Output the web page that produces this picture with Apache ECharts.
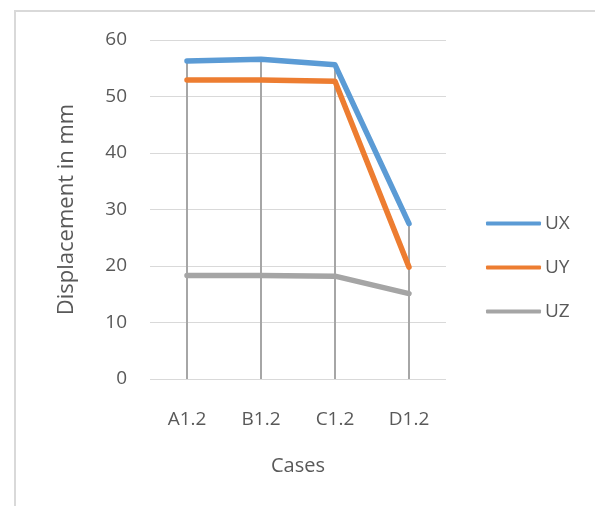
<!DOCTYPE html>
<html>
<head>
<meta charset="utf-8">
<script src="https://cdn.jsdelivr.net/npm/echarts@6/dist/echarts.min.js"></script>
<style>
  html, body { margin: 0; padding: 0; background: #fff; }
  #main { width: 595px; height: 506px; }
</style>
</head>
<body>
<div id="main"></div>
<script>
// 类别与数值
var cases = ['A1.2', 'B1.2', 'C1.2', 'D1.2'];
var ux = [56.3, 56.6, 55.6, 27.5];
var uy = [52.9, 52.9, 52.7, 19.8];
var uz = [18.3, 18.3, 18.2, 15.1];
var yTicks = [0, 10, 20, 30, 40, 50, 60];

// drop lines: 每个类别取最高值
var dropTop = cases.map(function (c, i) {
    return Math.max(ux[i], uy[i], uz[i]);
});

var font = '"Open Sans", "Noto Sans", sans-serif';
var grey = '#595959';

var option = {
    animation: false,
    backgroundColor: '#ffffff',
    textStyle: { fontFamily: font },
    graphic: [
        {
            type: 'polyline',
            shape: { points: [[15, 506], [15, 11], [595, 11]] },
            style: { stroke: '#d9d9d9', lineWidth: 2, fill: null },
            silent: true
        }
    ],
    grid: { left: 150, right: 149, top: 40, bottom: 127 },
    legend: {
        orient: 'vertical',
        left: 481,
        top: 209,
        padding: 5,
        icon: 'roundRect',
        itemWidth: 55,
        itemHeight: 4,
        itemGap: 25,
        data: ['UX', 'UY', 'UZ'],
        textStyle: { color: grey, fontSize: 19, fontFamily: font, padding: [0, 0, 0, -1] }
    },
    xAxis: {
        type: 'category',
        data: cases,
        boundaryGap: true,
        name: 'Cases',
        nameLocation: 'middle',
        nameGap: 77,
        nameTextStyle: { color: grey, fontSize: 20, fontFamily: font },
        axisLine: { show: false },
        axisTick: { show: false },
        axisLabel: { color: grey, fontSize: 19, margin: 31, fontFamily: font },
        splitLine: { show: false }
    },
    yAxis: {
        type: 'value',
        min: yTicks[0],
        max: yTicks[yTicks.length - 1],
        interval: 10,
        name: 'Displacement in mm',
        nameLocation: 'middle',
        nameGap: 72,
        nameTextStyle: { color: grey, fontSize: 22, fontFamily: font },
        axisLine: { show: false },
        axisTick: { show: false },
        axisLabel: { color: grey, fontSize: 19, margin: 23, fontFamily: font },
        splitLine: { lineStyle: { color: '#d9d9d9', width: 1 } }
    },
    series: [
        {
            name: 'drop',
            type: 'bar',
            data: dropTop,
            barWidth: 2,
            itemStyle: { color: '#a6a6a6' },
            z: 1,
            silent: true
        },
        {
            name: 'UX',
            type: 'line',
            data: ux,
            symbol: 'none',
            lineStyle: { color: '#5b9bd5', width: 5.5, cap: 'round', join: 'round' },
            itemStyle: { color: '#5b9bd5' },
            z: 4
        },
        {
            name: 'UY',
            type: 'line',
            data: uy,
            symbol: 'none',
            lineStyle: { color: '#ed7d31', width: 5.5, cap: 'round', join: 'round' },
            itemStyle: { color: '#ed7d31' },
            z: 3
        },
        {
            name: 'UZ',
            type: 'line',
            data: uz,
            symbol: 'none',
            lineStyle: { color: '#a5a5a5', width: 5.5, cap: 'round', join: 'round' },
            itemStyle: { color: '#a5a5a5' },
            z: 2
        }
    ]
};

var myChart = echarts.init(document.getElementById('main'));
myChart.setOption(option);
</script>
</body>
</html>
